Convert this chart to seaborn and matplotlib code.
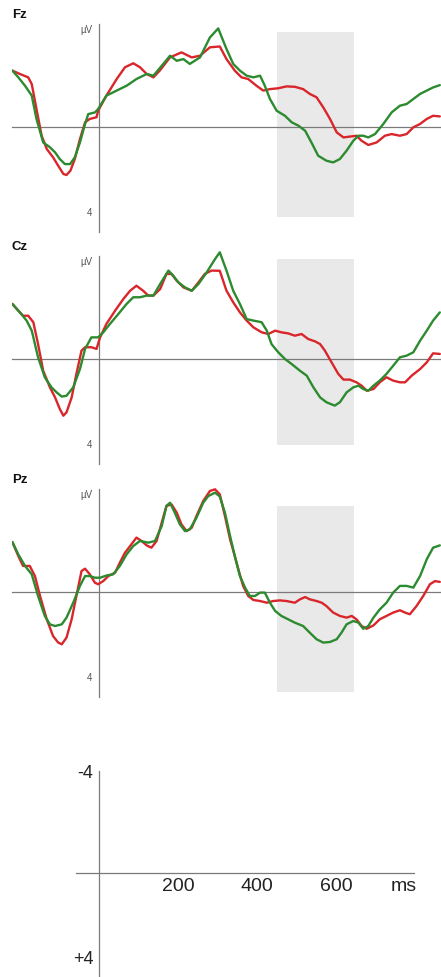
import matplotlib
matplotlib.use("Agg")
import matplotlib.pyplot as plt
import pandas as pd
import seaborn as sns

sns.set_style("white")
plt.rcParams["font.family"] = ["Liberation Sans", "DejaVu Sans"]

# ---- grand-average waveforms: latency (ms) and amplitude (µV, negative up) ----
fz_red_t = [-219, -200, -179, -170, -158, -145, -132, -116, -103, -90, -82, -72, -61, -48, -35, -23, -6, -2,
            19, 45, 66, 87, 104, 121, 138, 154, 180, 209, 235, 256, 281, 306, 323, 344, 361, 378, 399, 416,
            433, 454, 475, 496, 517, 534, 551, 568, 585, 602, 619, 640, 652, 665, 682, 703, 724, 741, 762,
            779, 796, 813, 830, 846, 863]
fz_red_v = [-2.67, -2.51, -2.35, -2.03, -0.84, 0.43, 1.06, 1.46, 1.86, 2.25, 2.30, 2.09, 1.54, 0.59, -0.21,
            -0.37, -0.45, -0.76, -1.48, -2.27, -2.83, -3.02, -2.83, -2.51, -2.35, -2.67, -3.30, -3.54, -3.30,
            -3.38, -3.78, -3.82, -3.22, -2.67, -2.35, -2.27, -1.95, -1.72, -1.79, -1.83, -1.92, -1.90, -1.79,
            -1.56, -1.40, -0.92, -0.37, 0.27, 0.51, 0.46, 0.43, 0.67, 0.87, 0.75, 0.43, 0.35, 0.43, 0.35,
            0.03, -0.13, -0.37, -0.52, -0.49]
fz_green_t = [-219, -204, -187, -170, -158, -141, -124, -111, -99, -86, -73, -61, -48, -35, -27, -10, -2,
              19, 45, 70, 95, 121, 138, 163, 180, 197, 214, 230, 256, 281, 302, 323, 340, 357, 374, 391, 408,
              420, 433, 450, 471, 488, 505, 522, 538, 555, 576, 593, 610, 627, 644, 657, 669, 682, 699, 720,
              741, 762, 779, 796, 813, 830, 846, 863]
fz_green_v = [-2.67, -2.35, -1.95, -1.48, -0.37, 0.75, 0.98, 1.22, 1.54, 1.78, 1.78, 1.46, 0.75, -0.13,
              -0.60, -0.68, -0.84, -1.48, -1.72, -1.95, -2.27, -2.51, -2.43, -2.99, -3.38, -3.14, -3.22,
              -2.99, -3.30, -4.25, -4.68, -3.70, -2.99, -2.67, -2.43, -2.35, -2.43, -1.95, -1.32, -0.76,
              -0.52, -0.21, -0.05, 0.19, 0.75, 1.38, 1.62, 1.70, 1.54, 1.14, 0.67, 0.43, 0.43, 0.51, 0.35,
              -0.13, -0.68, -1.00, -1.08, -1.32, -1.56, -1.72, -1.87, -1.98]

cz_red_t = [-219, -204, -192, -179, -166, -154, -141, -124, -111, -99, -90, -82, -69, -57, -44, -35, -19, -6,
            3, 19, 41, 62, 79, 95, 112, 125, 138, 155, 171, 184, 197, 214, 235, 252, 268, 285, 306, 323,
            340, 357, 374, 391, 412, 429, 446, 462, 479, 496, 513, 530, 547, 560, 572, 589, 606, 619, 635,
            652, 665, 678, 695, 711, 728, 745, 762, 775, 792, 813, 830, 846, 863]
cz_red_v = [-2.62, -2.30, -2.06, -2.06, -1.75, -0.71, 0.56, 1.35, 1.83, 2.38, 2.70, 2.54, 1.83, 0.71, -0.40,
            -0.56, -0.56, -0.48, -1.03, -1.67, -2.30, -2.86, -3.25, -3.49, -3.25, -3.02, -3.02, -3.33, -4.05,
            -4.05, -3.73, -3.41, -3.25, -3.65, -4.05, -4.21, -4.20, -3.25, -2.70, -2.22, -1.83, -1.51, -1.27,
            -1.19, -1.35, -1.27, -1.22, -1.11, -1.19, -0.95, -0.84, -0.71, -0.40, 0.16, 0.71, 0.98, 0.98,
            1.11, 1.27, 1.51, 1.43, 1.11, 0.87, 1.03, 1.11, 1.11, 0.79, 0.48, 0.16, -0.27, -0.24]
cz_green_t = [-219, -200, -183, -170, -154, -137, -120, -107, -94, -82, -65, -48, -35, -19, -2, 11, 28, 49,
              70, 87, 104, 121, 138, 155, 176, 188, 201, 218, 235, 252, 273, 294, 306, 323, 340, 357, 374,
              391, 412, 425, 437, 454, 471, 488, 509, 526, 543, 560, 576, 597, 610, 627, 644, 657, 669, 682,
              695, 711, 728, 745, 762, 779, 796, 813, 830, 846, 863]
cz_green_v = [-2.62, -2.22, -1.83, -1.35, -0.08, 0.87, 1.35, 1.59, 1.79, 1.75, 1.35, 0.48, -0.48, -1.03,
              -1.03, -1.27, -1.67, -2.14, -2.62, -2.94, -2.94, -3.02, -3.02, -3.57, -4.21, -3.97, -3.65,
              -3.41, -3.25, -3.57, -4.13, -4.76, -5.08, -4.21, -3.25, -2.62, -1.90, -1.83, -1.75, -1.35,
              -0.71, -0.32, 0.00, 0.24, 0.56, 0.79, 1.35, 1.83, 2.06, 2.22, 2.06, 1.59, 1.35, 1.27, 1.43,
              1.51, 1.27, 1.03, 0.71, 0.32, -0.08, -0.16, -0.32, -0.87, -1.35, -1.83, -2.22]

pz_red_t = [-219, -204, -192, -175, -162, -149, -132, -116, -103, -94, -82, -69, -57, -44, -35, -23, -10, -2,
            11, 24, 41, 53, 66, 79, 95, 108, 121, 133, 146, 159, 171, 184, 197, 209, 222, 235, 247, 264,
            281, 294, 306, 319, 332, 344, 353, 365, 378, 391, 408, 425, 441, 458, 475, 496, 509, 522, 534,
            551, 564, 576, 593, 610, 627, 640, 652, 665, 678, 695, 711, 728, 745, 762, 775, 787, 804, 821,
            838, 851, 863]
pz_red_v = [-2.38, -1.71, -1.24, -1.24, -0.76, 0.19, 1.30, 2.10, 2.41, 2.49, 2.17, 1.30, 0.19, -1.00, -1.11,
            -0.84, -0.44, -0.37, -0.52, -0.76, -0.92, -1.40, -1.87, -2.19, -2.59, -2.43, -2.22, -2.11, -2.43,
            -3.30, -4.10, -4.17, -3.78, -3.22, -2.90, -3.06, -3.62, -4.33, -4.81, -4.89, -4.65, -3.62, -2.51,
            -1.71, -1.08, -0.29, 0.19, 0.38, 0.43, 0.51, 0.43, 0.40, 0.43, 0.51, 0.35, 0.24, 0.35, 0.43,
            0.51, 0.67, 0.98, 1.14, 1.22, 1.14, 1.30, 1.62, 1.75, 1.59, 1.30, 1.14, 0.98, 0.87, 0.98, 1.06,
            0.67, 0.19, -0.37, -0.52, -0.48]
pz_green_t = [-219, -204, -187, -170, -154, -137, -124, -111, -94, -82, -65, -48, -35, -23, -10, 3, 20, 36,
              53, 70, 87, 104, 125, 142, 159, 171, 180, 192, 205, 218, 230, 247, 264, 277, 294, 306, 319,
              332, 344, 357, 370, 382, 395, 408, 420, 433, 446, 462, 479, 496, 517, 534, 551, 568, 585, 602,
              614, 627, 644, 657, 669, 682, 695, 711, 728, 745, 762, 779, 796, 813, 830, 846, 863]
pz_green_v = [-2.38, -1.79, -1.24, -0.84, 0.19, 1.14, 1.54, 1.62, 1.54, 1.22, 0.51, -0.29, -0.76, -0.76,
              -0.68, -0.68, -0.79, -0.84, -1.24, -1.79, -2.19, -2.43, -2.35, -2.43, -3.14, -4.10, -4.25,
              -3.78, -3.22, -2.90, -2.98, -3.54, -4.25, -4.57, -4.73, -4.55, -3.78, -2.67, -1.71, -0.76,
              -0.21, 0.19, 0.19, 0.03, 0.03, 0.51, 0.90, 1.14, 1.30, 1.46, 1.62, 1.94, 2.25, 2.41, 2.38,
              2.25, 1.94, 1.54, 1.38, 1.46, 1.75, 1.62, 1.22, 0.83, 0.51, 0.03, -0.29, -0.29, -0.21, -0.76,
              -1.56, -2.11, -2.22]

# analysis window (ms) and vertical extent of its shading per electrode (µV)
window_ms = [450, 645]
fz_window_uv = [-4.51, 4.30]
cz_window_uv = [-4.76, 4.10]
pz_window_uv = [-4.10, 4.76]

scale_ticks_ms = [200, 400, 600]
scale_tick_labels = ["200", "400", "600"]

RED = "#d9262b"
GREEN = "#2c8a2f"
AXIS = "#7a7a7a"
SHADE = "#e9e9e9"

W, H = 441, 978
fig = plt.figure(figsize=(W / 100, H / 100), dpi=100)

X0_PX, X1_PX = 12, 441
XLIM = (-220, 866)
UV_PX = 21.0  # pixels per µV


def make_axes(baseline_px, top_uv, bottom_uv):
    """Axes whose zero line sits at baseline_px (from the top), negative voltages upward."""
    top_px = baseline_px + top_uv * UV_PX
    bottom_px = baseline_px + bottom_uv * UV_PX
    ax = fig.add_axes([X0_PX / W, 1 - bottom_px / H, (X1_PX - X0_PX) / W, (bottom_px - top_px) / H])
    ax.set_xlim(*XLIM)
    ax.set_ylim(bottom_uv, top_uv)
    ax.patch.set_alpha(0)
    for side in ("top", "right"):
        ax.spines[side].set_visible(False)
    for side in ("left", "bottom"):
        ax.spines[side].set_position(("data", 0))
        ax.spines[side].set_color(AXIS)
        ax.spines[side].set_linewidth(0.9)
    return ax


panels = [
    ("Fz", 127.7, fz_red_t, fz_red_v, fz_green_t, fz_green_v, fz_window_uv),
    ("Cz", 360.0, cz_red_t, cz_red_v, cz_green_t, cz_green_v, cz_window_uv),
    ("Pz", 593.0, pz_red_t, pz_red_v, pz_green_t, pz_green_v, pz_window_uv),
]

for name, base_px, rt, rv, gt, gv, win in panels:
    ax = make_axes(base_px, -5.4, 5.0)
    ax.fill_betweenx(win, window_ms[0], window_ms[1], color=SHADE, lw=0, zorder=0)
    df = pd.concat([
        pd.DataFrame({"ms": rt, "uv": rv, "cond": "red"}),
        pd.DataFrame({"ms": gt, "uv": gv, "cond": "green"}),
    ])
    sns.lineplot(data=df, x="ms", y="uv", hue="cond", palette={"red": RED, "green": GREEN},
                 hue_order=["red", "green"], estimator=None, sort=False, legend=False,
                 linewidth=1.7, ax=ax, zorder=3)
    ax.set_xlabel("")
    ax.set_ylabel("")
    ax.spines["left"].set_bounds(-4.9, 5.0)
    ax.set_xticks([])
    ax.set_yticks([-4.7, -2, 2, 4])
    ax.set_yticklabels(["µV", "", "", "4"])
    ax.tick_params(axis="y", direction="out", length=3, width=0.8, color=AXIS,
                   labelsize=7, labelcolor="#555555", pad=1.5)
    fig.text(12 / W, 1 - (base_px - 112.5) / H, name, fontsize=9.5, fontweight="bold",
             ha="left", va="center", color="#111111")

# voltage / time scale
axs = make_axes(874.0, -5.3, 4.95)
axs.spines["bottom"].set_bounds(-57, 798)
axs.spines["left"].set_bounds(-4.86, 4.95)
axs.set_xticks(scale_ticks_ms)
axs.set_xticklabels(scale_tick_labels)
axs.tick_params(axis="x", direction="in", length=3, width=0.8, color=AXIS,
                labelsize=14, labelcolor="#222222", pad=3)
axs.set_yticks([-4.86, -2, 2, 4])
axs.set_yticklabels(["-4", "", "", "+4"])
axs.tick_params(axis="y", direction="out", length=3, width=0.8, color=AXIS,
                labelsize=13, labelcolor="#222222", pad=1)
axs.text(771, 0.81, "ms", fontsize=14, color="#222222", ha="center", va="baseline")

fig.savefig("out.png", dpi=100)
